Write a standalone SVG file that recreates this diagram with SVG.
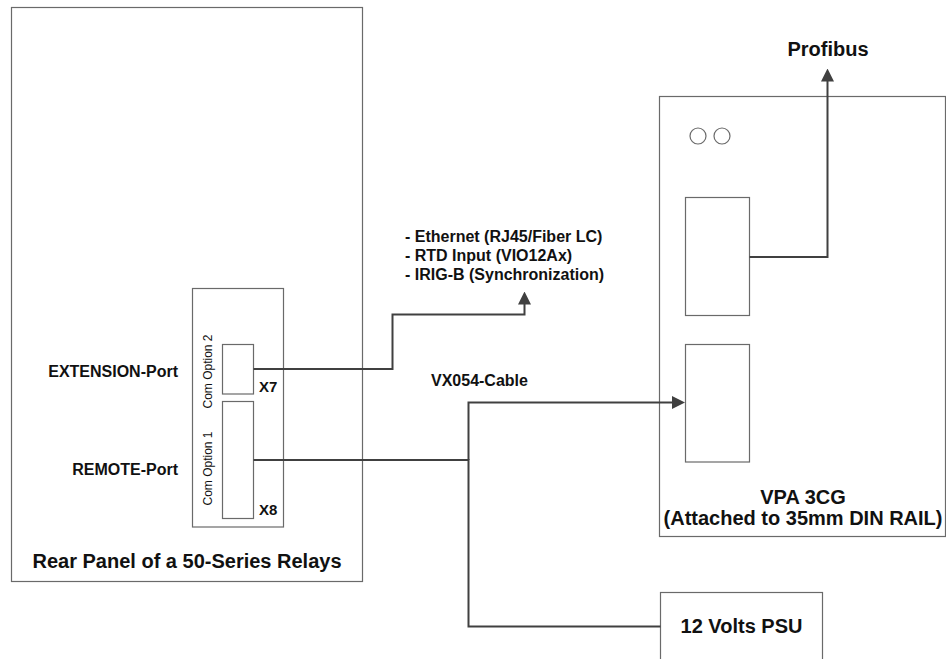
<svg xmlns="http://www.w3.org/2000/svg" width="946" height="659" viewBox="0 0 946 659">
<style>
.box{fill:#ffffff;stroke:#6a6a6a;stroke-width:1.2}
.port{fill:none;stroke:#6a6a6a;stroke-width:1.2}
.wire{fill:none;stroke:#404040;stroke-width:2}
.t{font-family:"Liberation Sans",Arial,sans-serif;fill:#111111}
.b{font-weight:bold}
</style>
<defs>
<marker id="arr" viewBox="0 0 13 13" refX="9" refY="6.5" markerWidth="13" markerHeight="13" markerUnits="userSpaceOnUse" orient="auto">
<path d="M0,0 L13,6.5 L0,13 z" fill="#404040"/>
</marker>
</defs>
<rect width="946" height="659" fill="#ffffff"/>

<g id="rear-panel">
<rect class="box" x="11.5" y="7.5" width="351" height="574"/>
<text class="t b" x="187" y="567.5" font-size="20" text-anchor="middle">Rear Panel of a 50-Series Relays</text>
<text class="t b" x="178" y="376.5" font-size="16" text-anchor="end">EXTENSION-Port</text>
<text class="t b" x="178" y="475" font-size="16" text-anchor="end">REMOTE-Port</text>
</g>

<g id="com-options">
<rect class="port" x="192.5" y="288.5" width="91" height="238.5"/>
<text class="t" font-size="12" text-anchor="middle" transform="translate(212,371.5) rotate(-90)">Com Option 2</text>
<text class="t" font-size="12" text-anchor="middle" transform="translate(212,468.5) rotate(-90)">Com Option 1</text>
</g>

<g id="x7">
<rect class="port" x="222.5" y="344.5" width="31" height="49.5"/>
<text class="t b" x="259" y="392" font-size="15">X7</text>
</g>

<g id="x8">
<rect class="port" x="222.5" y="401.5" width="31" height="117"/>
<text class="t b" x="259" y="515" font-size="15">X8</text>
</g>

<g id="options-label">
<text class="t b" font-size="16" x="405">
<tspan x="405" y="241.5">- Ethernet (RJ45/Fiber LC)</tspan>
<tspan x="405" y="260.5">- RTD Input (VIO12Ax)</tspan>
<tspan x="405" y="279.5">- IRIG-B (Synchronization)</tspan>
</text>
</g>

<g id="vpa">
<rect class="box" x="659.5" y="96.5" width="286" height="440"/>
<circle class="port" cx="698" cy="136" r="8"/>
<circle class="port" cx="722" cy="136" r="8"/>
<rect class="port" x="685.5" y="197.5" width="64" height="118"/>
<rect class="port" x="685.5" y="344.5" width="64" height="117.5"/>
<text class="t b" x="803" y="503.5" font-size="20" text-anchor="middle">VPA 3CG</text>
<text class="t b" x="803" y="525" font-size="20" text-anchor="middle">(Attached to 35mm DIN RAIL)</text>
</g>

<g id="psu">
<rect class="box" x="660.5" y="592.5" width="162" height="80"/>
<text class="t b" x="741.5" y="633" font-size="20" text-anchor="middle">12 Volts PSU</text>
</g>

<g id="profibus-label">
<text class="t b" x="828" y="56" font-size="20" text-anchor="middle">Profibus</text>
</g>

<g id="cable-label">
<text class="t b" x="431" y="386" font-size="16">VX054-Cable</text>
</g>

<g id="connectors">
<path class="wire" d="M253.5,369 H392.5 V314.5 H524.5 V295.5" marker-end="url(#arr)"/>
<path class="wire" d="M253.5,460 H468.5 V626.5 H660.5"/>
<path class="wire" d="M468.5,460 V402.5 H681" marker-end="url(#arr)"/>
<path class="wire" d="M749.5,257 H827.5 V72.5" marker-end="url(#arr)"/>
</g>
</svg>
